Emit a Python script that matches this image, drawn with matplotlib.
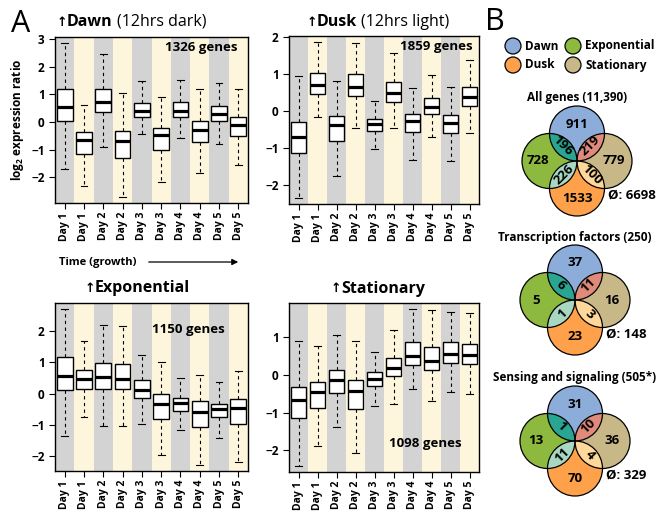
import numpy as np
import matplotlib
matplotlib.use('Agg')
import matplotlib.pyplot as plt
from matplotlib.patches import Circle

plt.rcParams['font.family'] = ['Open Sans', 'DejaVu Sans']
plt.rcParams['font.weight'] = 'bold'
plt.rcParams['mathtext.fontset'] = 'custom'
plt.rcParams['mathtext.rm'] = 'Open Sans:bold'
plt.rcParams['mathtext.it'] = 'Open Sans:bold'
plt.rcParams['mathtext.bf'] = 'Open Sans:bold'

## DANE ##
days = ['Day 1', 'Day 1', 'Day 2', 'Day 2', 'Day 3', 'Day 3', 'Day 4', 'Day 4', 'Day 5', 'Day 5']

# Dawn
dawn_hi = [2.85, 0.61, 2.46, 1.06, 1.50, 0.92, 1.51, 1.19, 1.42, 1.18]
dawn_q3 = [1.18, -0.37, 1.20, -0.33, 0.70, -0.20, 0.71, 0.05, 0.58, 0.17]
dawn_med = [0.56, -0.65, 0.73, -0.69, 0.39, -0.48, 0.39, -0.27, 0.29, -0.12]
dawn_q1 = [0.04, -1.14, 0.35, -1.29, 0.17, -1.00, 0.18, -0.73, 0.04, -0.50]
dawn_lo = [-1.68, -2.31, -0.89, -2.70, -0.42, -2.15, -0.58, -1.85, -0.80, -1.54]

# Dusk
dusk_hi = [0.94, 1.86, 0.80, 1.85, 0.28, 1.57, 0.61, 0.97, 0.64, 1.39]
dusk_q3 = [-0.29, 1.03, -0.14, 1.01, -0.21, 0.78, -0.08, 0.34, -0.12, 0.64]
dusk_med = [-0.70, 0.71, -0.39, 0.66, -0.35, 0.48, -0.26, 0.11, -0.33, 0.39]
dusk_q1 = [-1.13, 0.46, -0.80, 0.41, -0.54, 0.25, -0.58, -0.08, -0.61, 0.14]
dusk_lo = [-2.35, -0.17, -1.77, -0.45, -1.03, -0.45, -1.34, -0.70, -1.35, -0.59]

# Exponential
exp_hi = [2.70, 1.68, 2.19, 2.16, 1.25, 1.02, 0.50, 0.61, 0.37, 0.73]
exp_q3 = [1.16, 0.76, 0.98, 0.94, 0.42, -0.02, -0.13, -0.24, -0.32, -0.18]
exp_med = [0.56, 0.46, 0.52, 0.47, 0.10, -0.32, -0.30, -0.59, -0.51, -0.46]
exp_q1 = [0.12, 0.15, 0.16, 0.13, -0.14, -0.80, -0.56, -1.07, -0.75, -0.98]
exp_lo = [-1.37, -0.76, -1.03, -1.05, -0.98, -1.98, -1.18, -2.28, -1.42, -2.19]

# Stationary
stat_hi = [0.89, 0.77, 1.06, 0.91, 0.61, 1.20, 1.74, 1.71, 1.68, 1.65]
stat_q3 = [-0.32, -0.19, 0.13, -0.13, 0.07, 0.46, 0.86, 0.75, 0.86, 0.83]
stat_med = [-0.67, -0.46, -0.13, -0.42, -0.10, 0.19, 0.50, 0.36, 0.55, 0.53]
stat_q1 = [-1.15, -0.89, -0.47, -0.90, -0.30, -0.03, 0.26, 0.13, 0.32, 0.29]
stat_lo = [-2.41, -1.88, -1.38, -2.06, -0.83, -0.76, -0.37, -0.69, -0.45, -0.51]

gene_counts = ['1326 genes', '1859 genes', '1150 genes', '1098 genes']

# Venn
venn_titles = ['All genes (11,390)', 'Transcription factors (250)', 'Sensing and signaling (505*)']
dawn_only = [911, 37, 31]
exp_only = [728, 5, 13]
stat_only = [779, 16, 36]
dusk_only = [1533, 23, 70]
dawn_exp = [196, 6, 1]
dawn_stat = [219, 11, 10]
exp_dusk = [226, 1, 11]
dusk_stat = [100, 3, 4]
neither = [6698, 148, 329]

## KOLORY ##
c_gray = '#d3d3d3'
c_cream = '#fdf6dc'
c_dawn = '#8cacd9'
c_exp = '#8cb93e'
c_dusk = '#ffa14b'
c_stat = '#c8b887'
c_dawn_exp = '#2aa592'
c_dawn_stat = '#df8a7b'
c_exp_dusk = '#a9d8c2'
c_dusk_stat = '#fed89b'

W, H = 661, 512
fig = plt.figure(figsize=(W/100, H/100), dpi=100)

def px_axes(x0, y0, x1, y1):
    return fig.add_axes([x0/W, 1 - y1/H, (x1 - x0)/W, (y1 - y0)/H])

def panel(ax, lo, q1, med, q3, hi, ticks, genes, gx, gy):
    for i in range(1, 11):
        ax.axvspan(i - 0.5, i + 0.5, color=c_gray if i % 2 else c_cream, lw=0, zorder=0)
    stats = []
    for k in range(10):
        stats.append(dict(whislo=lo[k], q1=q1[k], med=med[k], q3=q3[k], whishi=hi[k], fliers=[]))
    ax.bxp(stats, positions=range(1, 11), widths=0.82, capwidths=0.35, patch_artist=True,
           boxprops=dict(facecolor='white', edgecolor='black', lw=1.0),
           medianprops=dict(color='black', lw=2.3, solid_capstyle='butt'),
           whiskerprops=dict(color='black', lw=0.8, linestyle=(0, (3, 3))),
           capprops=dict(color='black', lw=0.8), zorder=2)
    rng = max(hi) - min(lo)
    ax.set_ylim(min(lo) - 0.04*rng, max(hi) + 0.04*rng)
    ax.set_xlim(0.5, 10.5)
    ax.set_yticks(ticks)
    ax.set_xticks(range(1, 11))
    ax.set_xticklabels(days, rotation=90)
    ax.tick_params(axis='y', length=4, width=0.8, pad=3.5, labelsize=8.5)
    ax.tick_params(axis='x', length=4.5, width=0.8, pad=2, labelsize=7.5)
    for s in ax.spines.values():
        s.set_linewidth(1.0)
    ax.text(gx, gy, genes, transform=ax.transAxes, ha='right', va='center', fontsize=9.5)

ax1 = px_axes(55, 37, 248, 203)
panel(ax1, dawn_lo, dawn_q1, dawn_med, dawn_q3, dawn_hi, [-2, -1, 0, 1, 2, 3], gene_counts[0], 0.948, 0.934)
ax1.set_ylabel(r'log$_{2}$ expression ratio', fontsize=8.5, fontweight='bold', labelpad=4)

ax2 = px_axes(289, 36, 479, 204)
panel(ax2, dusk_lo, dusk_q1, dusk_med, dusk_q3, dusk_hi, [-2, -1, 0, 1, 2], gene_counts[1], 0.968, 0.935)

ax3 = px_axes(55, 303, 248, 471)
panel(ax3, exp_lo, exp_q1, exp_med, exp_q3, exp_hi, [-2, -1, 0, 1, 2], gene_counts[2], 0.88, 0.845)

ax4 = px_axes(289, 303, 479, 472)
panel(ax4, stat_lo, stat_q1, stat_med, stat_q3, stat_hi, [-2, -1, 0, 1], gene_counts[3], 0.91, 0.17)

## NAKLADKA (tekst i Venn) ##
ov = fig.add_axes([0, 0, 1, 1])
ov.set_xlim(0, W)
ov.set_ylim(H, 0)
ov.axis('off')

ov.text(21, 24, 'A', fontsize=22, fontweight='normal', ha='center', va='center')
ov.text(495, 22, 'B', fontsize=22, fontweight='normal', ha='center', va='center')

renderer = fig.canvas.get_renderer()

# tytuly paneli
def title(xa, y, bold, normal=None):
    ov.text(xa, y, '\u2191', fontsize=9, ha='center', va='center', family='DejaVu Sans')
    t = ov.text(xa + 5, y, bold, fontsize=11.5, ha='left', va='center')
    if normal:
        bb = t.get_window_extent(renderer)
        ov.text(bb.x1 + 4, y, normal, fontsize=11.5, fontweight='normal', ha='left', va='center')

title(62, 22, 'Dawn', '(12hrs dark)')
title(312, 22, 'Dusk', '(12hrs light)')
title(90, 288, 'Exponential')
title(336, 289, 'Stationary')

ov.text(59, 262, 'Time (growth)', fontsize=8, ha='left', va='center')
ov.annotate('', xy=(241, 262), xytext=(146, 262),
            arrowprops=dict(arrowstyle='-|>', lw=0.9, color='black', mutation_scale=9))

# legenda
for (lx, ly, col, lab) in [(513, 46, c_dawn, 'Dawn'), (573, 46, c_exp, 'Exponential'),
                           (513, 65, c_dusk, 'Dusk'), (573, 65, c_stat, 'Stationary')]:
    ov.add_patch(Circle((lx, ly), 8, fc=col, ec='black', lw=0.9))
    ov.text(lx + 12, ly, lab, fontsize=8.5, ha='left', va='center')

# diagramy Venna
r = 27.5
d = 27.5
centers = [(577, 161), (575, 300), (575, 441)]
for k in range(3):
    cx, cy = centers[k]
    p_dawn = (cx, cy - d)
    p_exp = (cx - d, cy)
    p_stat = (cx + d, cy)
    p_dusk = (cx, cy + d)
    for p, col in [(p_dawn, c_dawn), (p_exp, c_exp), (p_stat, c_stat), (p_dusk, c_dusk)]:
        ov.add_patch(Circle(p, r, fc=col, ec='none', zorder=1))
    for a, b, col in [(p_dawn, p_exp, c_dawn_exp), (p_dawn, p_stat, c_dawn_stat),
                      (p_exp, p_dusk, c_exp_dusk), (p_dusk, p_stat, c_dusk_stat)]:
        lens = Circle(a, r, fc=col, ec='none', zorder=2)
        ov.add_patch(lens)
        lens.set_clip_path(Circle(b, r, transform=ov.transData))
    for p in [p_dawn, p_exp, p_stat, p_dusk]:
        ov.add_patch(Circle(p, r, fill=False, ec='black', lw=0.9, zorder=3))

    ov.text(cx, cy - 63, venn_titles[k], fontsize=8.5, ha='center', va='center')
    kw = dict(fontsize=9.5, ha='center', va='center', zorder=4)
    ov.text(cx, cy - 37, str(dawn_only[k]), **kw)
    ov.text(cx - 39, cy, str(exp_only[k]), **kw)
    ov.text(cx + 37, cy, str(stat_only[k]), **kw)
    ov.text(cx, cy + 37, str(dusk_only[k]), **kw)
    ov.text(cx - 14, cy - 15, str(dawn_exp[k]), rotation=-45, **kw)
    ov.text(cx + 13, cy - 15, str(dawn_stat[k]), rotation=45, **kw)
    ov.text(cx - 13, cy + 14, str(exp_dusk[k]), rotation=45, **kw)
    ov.text(cx + 15, cy + 14, str(dusk_stat[k]), rotation=-45, **kw)
    ov.text(cx + 31, cy + 34, '\u00d8: ' + str(neither[k]), fontsize=9.5, ha='left', va='center')

plt.savefig('out.png', dpi=100)
